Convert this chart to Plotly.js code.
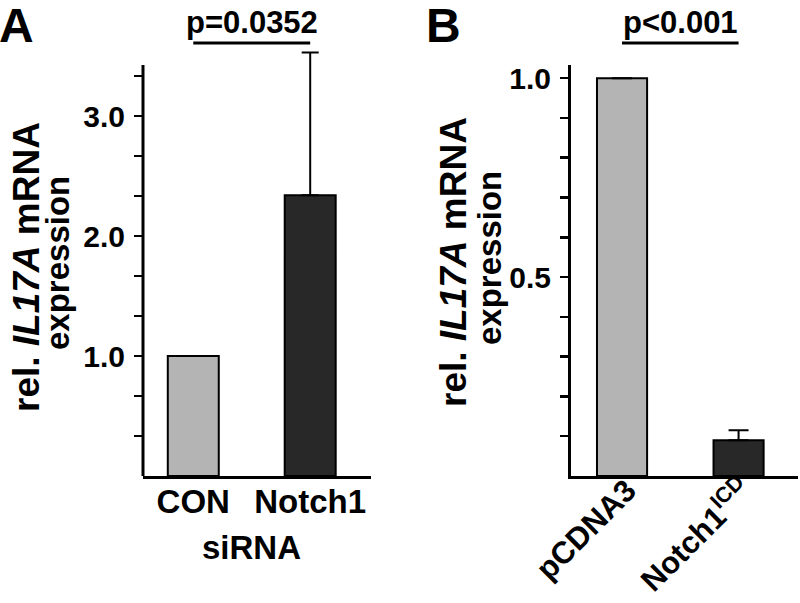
<!DOCTYPE html>
<html>
<head>
<meta charset="utf-8">
<script src="https://cdn.plot.ly/plotly-3.0.1.min.js"></script>
<style>html,body{margin:0;padding:0;background:#fff;}#chart{width:800px;height:603px;}</style>
</head>
<body>
<div id="chart"></div>
<script>
// Panel A data
const categoriesA = ['CON', 'Notch1'];
const valuesA = [1.0, 2.34];
const errorsA = [null, 1.19];
const tickValsA = [1/3, 2/3, 1, 4/3, 5/3, 2, 7/3, 8/3, 3, 10/3];
const tickTextA = ['', '', '1.0', '', '', '2.0', '', '', '3.0', ''];
const axisTopA = 3.425;
const pValueA = 'p=0.0352';

// Panel B data
const categoriesB = ['pCDNA3', 'Notch1<sup>ICD</sup>'];
const valuesB = [1.0, 0.09];
const errorsB = [null, 0.025];
const tickValsB = [0.1, 0.2, 0.3, 0.4, 0.5, 0.6, 0.7, 0.8, 0.9, 1.0];
const tickTextB = ['', '', '', '', '0.5', '', '', '', '', '1.0'];
const pValueB = 'p<0.001';

const barColors = ['#b4b4b4', '#282828'];
const FONT = 'Liberation Sans, Arial, sans-serif';
const H = 603, W = 800;
const py = v => 1 - v / H;   // pixel-from-top to paper y
const px = v => v / W;

const traceA = {
  type: 'bar', x: categoriesA, y: valuesA, xaxis: 'x', yaxis: 'y',
  width: 0.436, cliponaxis: false,
  marker: {color: barColors, line: {color: '#000', width: 2}},
  error_y: {type: 'data', array: errorsA, symmetric: false, arrayminus: [0, 0],
            color: '#000', thickness: 2, width: 8.5},
  hoverinfo: 'none'
};
const traceB = {
  type: 'bar', x: categoriesB, y: valuesB, xaxis: 'x2', yaxis: 'y2',
  width: 0.43, cliponaxis: false,
  marker: {color: barColors, line: {color: '#000', width: 2}},
  error_y: {type: 'data', array: errorsB, symmetric: false, arrayminus: [0, 0],
            color: '#000', thickness: 2, width: 10},
  hoverinfo: 'none'
};

const yCommon = {
  showline: true, linecolor: '#000', linewidth: 3, showgrid: false, zeroline: false,
  ticks: 'outside', ticklen: 8, tickwidth: 2.5, tickcolor: '#000',
  tickmode: 'array', automargin: false, ticklabelstandoff: 3,
  tickfont: {family: FONT, size: 30, color: '#000', weight: 700}
};
const xCommon = {
  showline: true, linecolor: '#000', linewidth: 3, showgrid: false, zeroline: false,
  ticks: '', type: 'category', automargin: false, fixedrange: true,
  tickfont: {family: FONT, size: 33, color: '#000', weight: 700}
};

const bigFont = {family: FONT, size: 48, color: '#000', weight: 700};
const pFont = {family: FONT, size: 31, color: '#000', weight: 700};
const title1Font = {family: FONT, size: 37, color: '#000', weight: 700};
const title2Font = {family: FONT, size: 33, color: '#000', weight: 700};

// Panel A: 120 px per unit, zero at y=476 px; extend range so the error bar is not clipped
const yTopA = 3.58;

const layout = {
  width: W, height: H, autosize: false,
  margin: {l: 0, r: 0, t: 0, b: 0, pad: 0},
  paper_bgcolor: '#fff', plot_bgcolor: 'rgba(0,0,0,0)',
  showlegend: false,
  font: {family: FONT, color: '#000'},
  xaxis: Object.assign({}, xCommon, {domain: [px(143), px(371)], anchor: 'y',
    range: [-0.43, 1.52], ticklabelstandoff: -6}),
  yaxis: Object.assign({}, yCommon, {domain: [py(476), py(476 - yTopA * 120)], anchor: 'x',
    range: [0, yTopA], tickvals: tickValsA, ticktext: tickTextA, showline: false}),
  xaxis2: Object.assign({}, xCommon, {domain: [px(571), px(798)], anchor: 'y2',
    range: [-0.438, 1.51], tickangle: -45, ticklabelstandoff: -19, ticklabelshift: 5,
    tickfont: {family: FONT, size: 31, color: '#000', weight: 700}}),
  yaxis2: Object.assign({}, yCommon, {domain: [py(476), py(65)], anchor: 'x2',
    range: [0, 1.033], tickvals: tickValsB, ticktext: tickTextB}),
  shapes: [
    // y axis line of panel A, drawn up to the axis top
    {type: 'line', xref: 'x domain', yref: 'y', x0: 0, x1: 0, y0: 0, y1: axisTopA,
     line: {color: '#000', width: 3}},
    {type: 'line', xref: 'x', yref: 'paper', x0: 0, x1: 1, y0: py(43), y1: py(43),
     line: {color: '#000', width: 3}},
    {type: 'line', xref: 'x2', yref: 'paper', x0: 0, x1: 1, y0: py(43), y1: py(43),
     line: {color: '#000', width: 3}}
  ],
  annotations: [
    {text: 'A', xref: 'paper', yref: 'paper', x: px(-3), y: py(25), xanchor: 'left', yanchor: 'middle',
     showarrow: false, font: bigFont},
    {text: 'B', xref: 'paper', yref: 'paper', x: px(424), y: py(25), xanchor: 'left', yanchor: 'middle',
     showarrow: false, font: bigFont},
    {text: pValueA, xref: 'x', yref: 'paper', x: 0.5, y: py(22), xanchor: 'center', yanchor: 'middle',
     showarrow: false, font: pFont},
    {text: pValueB, xref: 'x2', yref: 'paper', x: 0.5, y: py(22), xanchor: 'center', yanchor: 'middle',
     showarrow: false, font: pFont},
    {text: 'rel. <i>IL17A</i> mRNA', xref: 'paper', yref: 'paper', x: px(26), y: py(267),
     xanchor: 'center', yanchor: 'middle', textangle: -90, showarrow: false, font: title1Font},
    {text: 'expression', xref: 'paper', yref: 'paper', x: px(57), y: py(263),
     xanchor: 'center', yanchor: 'middle', textangle: -90, showarrow: false, font: title2Font},
    {text: 'rel. <i>IL17A</i> mRNA', xref: 'paper', yref: 'paper', x: px(453), y: py(262),
     xanchor: 'center', yanchor: 'middle', textangle: -90, showarrow: false, font: title1Font},
    {text: 'expression', xref: 'paper', yref: 'paper', x: px(489), y: py(258),
     xanchor: 'center', yanchor: 'middle', textangle: -90, showarrow: false, font: title2Font},
    {text: 'siRNA', xref: 'x', yref: 'paper', x: 0.5, y: py(547), xanchor: 'center', yanchor: 'middle',
     showarrow: false, font: {family: FONT, size: 33, color: '#000', weight: 700}}
  ]
};

Plotly.newPlot('chart', [traceA, traceB], layout, {staticPlot: true, displayModeBar: false});
</script>
</body>
</html>
